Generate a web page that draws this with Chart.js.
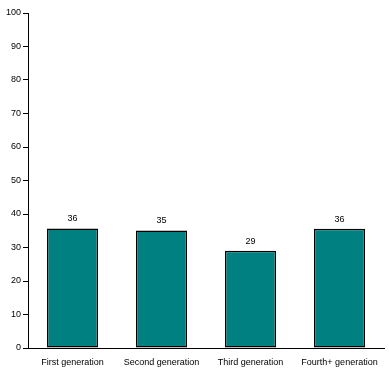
<!DOCTYPE html>
<html>
<head>
<meta charset="utf-8">
<script src="https://cdn.jsdelivr.net/npm/chart.js@4.4.0/dist/chart.umd.min.js"></script>
<style>
  html, body { margin: 0; padding: 0; background: #fff; }
  canvas { display: block; }
</style>
</head>
<body>
<canvas id="chart" width="389" height="375"></canvas>
<script>
const categories = ['First generation', 'Second generation', 'Third generation', 'Fourth+ generation'];
const values = [35.7, 35.1, 29.0, 35.6];
const yTicks = [0, 10, 20, 30, 40, 50, 60, 70, 80, 90, 100];

// draws the rounded value above each bar
const barLabels = {
    id: 'barLabels',
    afterDatasetsDraw(chart) {
        const ctx = chart.ctx;
        const meta = chart.getDatasetMeta(0);
        ctx.save();
        ctx.font = '9px "Liberation Sans", Arial, sans-serif';
        ctx.fillStyle = '#000';
        ctx.textAlign = 'center';
        ctx.textBaseline = 'alphabetic';
        meta.data.forEach((bar, i) => {
            ctx.fillText(Math.round(values[i]), bar.x, bar.y - 7);
        });
        ctx.restore();
    }
};

new Chart(document.getElementById('chart'), {
    type: 'bar',
    data: {
        labels: categories,
        datasets: [{
            data: values,
            backgroundColor: '#008080',
            borderColor: '#000',
            borderWidth: 1.5,
            borderSkipped: false,
            categoryPercentage: 0.575,
            barPercentage: 1
        }]
    },
    options: {
        responsive: false,
        animation: false,
        devicePixelRatio: 1,
        layout: { padding: { top: 13, right: 5, left: 0, bottom: 0 } },
        plugins: {
            legend: { display: false },
            tooltip: { enabled: false }
        },
        scales: {
            x: {
                grid: { display: false },
                border: { display: true, color: '#000', width: 1 },
                ticks: {
                    color: '#000',
                    font: { family: '"Liberation Sans", Arial, sans-serif', size: 9 },
                    maxRotation: 0,
                    autoSkip: false,
                    padding: 1
                },
                afterFit(scale) { scale.height = 27; }
            },
            y: {
                min: 0,
                max: 100,
                afterBuildTicks(scale) { scale.ticks = yTicks.map(v => ({ value: v })); },
                grid: { drawOnChartArea: false, drawTicks: true, tickLength: 5, color: '#000' },
                border: { display: true, color: '#000', width: 1 },
                ticks: {
                    color: '#000',
                    font: { family: '"Liberation Sans", Arial, sans-serif', size: 9 },
                    padding: 2
                },
                afterFit(scale) { scale.width = 28; }
            }
        }
    },
    plugins: [barLabels]
});
</script>
</body>
</html>
